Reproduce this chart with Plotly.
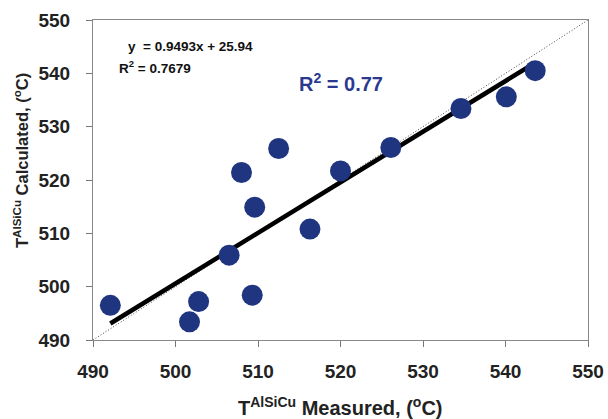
import numpy as np
import plotly.graph_objects as go

measured = [492.1, 501.7, 502.8, 506.5, 509.3, 508.0, 509.6, 512.5, 516.3, 520.0, 526.1, 534.6, 540.1, 543.6]
calculated = [496.5, 493.4, 497.2, 505.9, 498.4, 521.4, 514.9, 525.9, 510.8, 521.7, 526.1, 533.4, 535.6, 540.5]
slope = 0.9493
intercept = 25.94
r2_text = "0.7679"
r2_short = "0.77"
axis_range = [490, 550]
tick_vals = [490, 500, 510, 520, 530, 540, 550]
x_title = "T<sup>AlSiCu</sup> Measured, (<sup>o</sup>C)"
y_title = "T<sup>AlSiCu</sup> Calculated, (<sup>o</sup>C)"

FONT = "Arial, Liberation Sans, sans-serif"

fig = go.Figure()

# y = x reference line (dotted)
fig.add_trace(go.Scatter(x=axis_range, y=axis_range, mode="lines",
                         line=dict(color="#444444", width=1, dash="1px,2px"),
                         hoverinfo="skip", showlegend=False))

# linear trend line
x_fit = np.array([min(measured), max(measured)])
y_fit = slope * x_fit + intercept
fig.add_trace(go.Scatter(x=x_fit, y=y_fit, mode="lines",
                         line=dict(color="#000000", width=4.5),
                         hoverinfo="skip", showlegend=False))

# data points
fig.add_trace(go.Scatter(x=measured, y=calculated, mode="markers",
                         marker=dict(color="#1f3580", size=21, line=dict(width=0)),
                         showlegend=False))

axis_common = dict(range=axis_range, tickvals=tick_vals, ticks="outside", ticklen=6,
                   tickcolor="#777777", tickwidth=1, showgrid=False, zeroline=False,
                   showline=True, linecolor="#888888", linewidth=1, mirror=True,
                   automargin=False,
                   tickfont=dict(family=FONT, size=19, color="#222222", weight="bold"))

fig.update_xaxes(**axis_common, ticklabelstandoff=8)
fig.update_yaxes(**axis_common, ticklabelstandoff=12)

# axis titles
fig.add_annotation(xref="paper", yref="paper", x=0.499, y=-0.209, text=x_title,
                   showarrow=False, xanchor="center", yanchor="middle",
                   font=dict(family=FONT, size=20, color="#222222", weight="bold"))
fig.add_annotation(xref="paper", yref="paper", x=-0.1455, y=0.5625, text=y_title,
                   textangle=-90, showarrow=False, xanchor="center", yanchor="middle",
                   font=dict(family=FONT, size=16.5, color="#222222", weight="bold"))

# trendline labels
fig.add_annotation(xref="x", yref="y", x=494.0, y=545.1, xanchor="left", yanchor="middle",
                   text=f"y  = {slope}x + {intercept}", showarrow=False,
                   font=dict(family=FONT, size=13.5, color="#111111", weight="bold"))
fig.add_annotation(xref="x", yref="y", x=492.9, y=541.25, xanchor="left", yanchor="middle",
                   text=f"R<sup>2</sup> = {r2_text}", showarrow=False,
                   font=dict(family=FONT, size=13.5, color="#111111", weight="bold"))
fig.add_annotation(xref="x", yref="y", x=514.7, y=538.3, xanchor="left", yanchor="middle",
                   text=f"R<sup>2</sup> = {r2_short}", showarrow=False,
                   font=dict(family=FONT, size=20, color="#2b3a8f", weight="bold"))

fig.update_layout(width=608, height=419, paper_bgcolor="white", plot_bgcolor="white",
                  margin=dict(l=93, r=20, t=20, b=79, autoexpand=False), showlegend=False)

fig.write_html("out.html")
